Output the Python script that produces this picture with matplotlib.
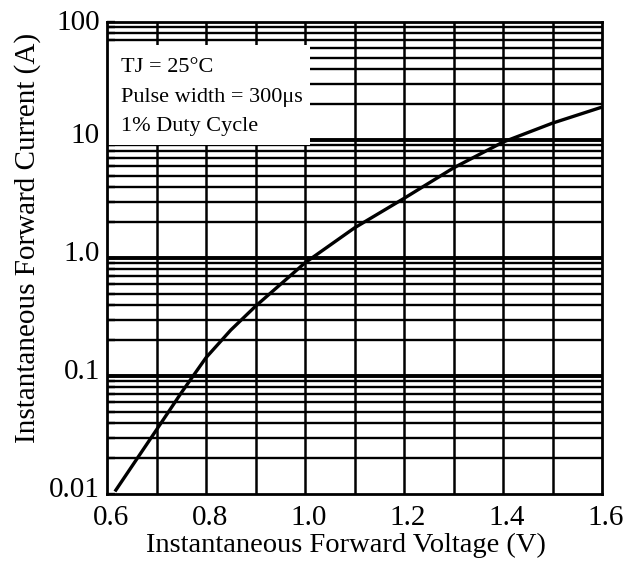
import matplotlib
matplotlib.use("Agg")
import matplotlib.pyplot as plt
import numpy as np
from matplotlib.patches import Rectangle
from matplotlib.ticker import FixedLocator, NullFormatter
from matplotlib.transforms import ScaledTranslation

plt.rcParams['font.family'] = ['Liberation Serif', 'DejaVu Serif']

# Data
voltage = [0.616, 0.7, 0.75, 0.8, 0.85, 0.9, 1.0, 1.1, 1.2, 1.3, 1.4, 1.5, 1.6]
current = [0.0105, 0.035, 0.072, 0.143, 0.245, 0.39, 0.91, 1.8, 3.2, 5.8, 9.6, 13.9, 19.0]

x_ticks = [0.6, 0.8, 1.0, 1.2, 1.4, 1.6]
x_tick_labels = ["0.6", "0.8", "1.0", "1.2", "1.4", "1.6"]
x_grid = [0.7, 0.8, 0.9, 1.0, 1.1, 1.2, 1.3, 1.4, 1.5]
y_ticks = [0.01, 0.1, 1.0, 10, 100]
y_tick_labels = ["0.01", "0.1", "1.0", "10", "100"]
y_minor = [m * d for d in [0.01, 0.1, 1, 10] for m in range(2, 10)]

annot_lines = ["TJ = 25°C", "Pulse width = 300μs", "1% Duty Cycle"]

W, H = 631, 562
fig = plt.figure(figsize=(W / 100, H / 100), dpi=100)
ax = fig.add_axes([107 / W, (H - 494) / H, 495 / W, 472 / H])
ax.set_yscale('log')
ax.set_xlim(0.6, 1.6)
ax.set_ylim(0.01, 100)

# grid lines
for v in x_grid:
    ax.axvline(v, color='black', lw=1.8, zorder=1)
for v in y_minor:
    ax.axhline(v, color='black', lw=1.7, zorder=1)
for v in y_ticks[1:-1]:
    ax.axhline(v, color='black', lw=2.8, zorder=1)

# white annotation box
ax.add_patch(Rectangle((0, 0.739), 0.41, 0.212, transform=ax.transAxes,
                       facecolor='white', edgecolor='none', zorder=1.6))
for t, yy in zip(annot_lines, [0.903, 0.841, 0.778]):
    ax.text(0.028, yy, t, transform=ax.transAxes, fontsize=16,
            va='center', ha='left', zorder=3)

ax.plot(voltage, current, color='black', lw=2.4, zorder=2,
        solid_capstyle='butt', solid_joinstyle='round')

ax.set_xticks(x_ticks)
ax.set_xticklabels(x_tick_labels)
ax.yaxis.set_major_locator(FixedLocator(y_ticks))
ax.set_yticklabels(y_tick_labels)
ax.yaxis.set_minor_locator(FixedLocator(y_minor))
ax.yaxis.set_minor_formatter(NullFormatter())
ax.tick_params(axis='y', which='both', direction='in', length=6, width=1.7,
               labelsize=21, pad=5)
ax.tick_params(axis='x', which='both', direction='in', length=0,
               labelsize=21, pad=8)
for s in ax.spines.values():
    s.set_linewidth(2.0)
    s.set_zorder(3)

for lab in ax.get_yticklabels():
    dy = 2 if lab.get_text() == "100" else 7
    lab.set_transform(lab.get_transform() + ScaledTranslation(0, dy / 100, fig.dpi_scale_trans))
for lab in ax.get_xticklabels():
    lab.set_transform(lab.get_transform() + ScaledTranslation(4 / 100, 0, fig.dpi_scale_trans))

fig.text(346 / W, (H - 545) / H, "Instantaneous Forward Voltage (V)",
         fontsize=20.5, ha='center', va='center')
fig.text(28 / W, (H - 238) / H, "Instantaneous Forward Current (A)",
         fontsize=21, ha='center', va='center', rotation=90)

fig.savefig("out.png", dpi=100, facecolor='white')
